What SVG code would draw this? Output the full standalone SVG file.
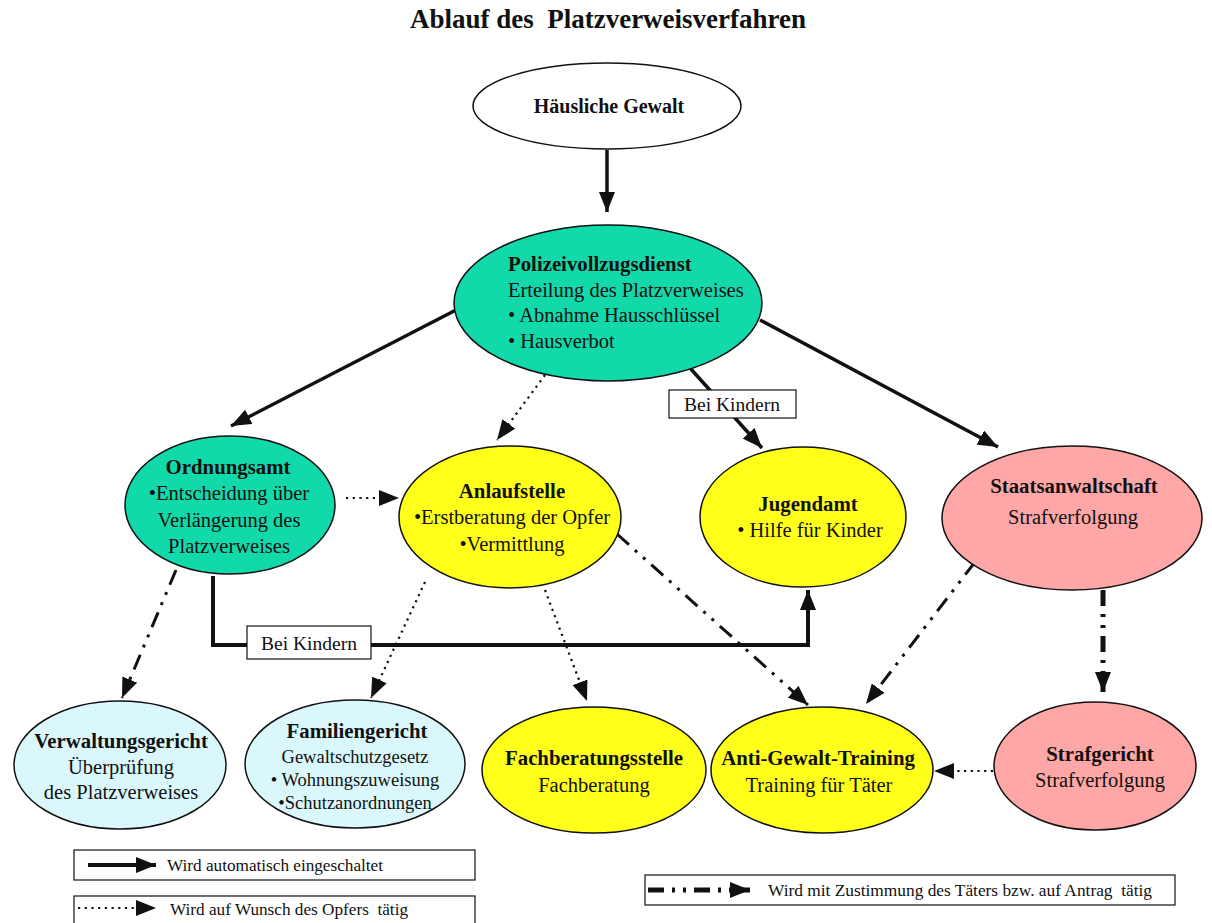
<svg xmlns="http://www.w3.org/2000/svg" width="1212" height="923" viewBox="0 0 1212 923">
<style>
text{font-family:"Liberation Serif","Times New Roman",serif;fill:#111;white-space:pre}
.t{font-size:20.5px}
.b{font-size:20.8px;font-weight:bold}
.c{text-anchor:middle}
.n{stroke:#111;stroke-width:1.5}
.teal{fill:#12D9A9}
.yel{fill:#FFFF1A}
.pink{fill:#FFA6A6}
.cyan{fill:#DAF8FC}
.solid{fill:none;stroke:#111;stroke-width:3.5}
.dot{fill:none;stroke:#111;stroke-width:2.2;stroke-dasharray:2.2 4.5}
.dd{fill:none;stroke:#111;stroke-width:3;stroke-dasharray:16 8 3 8 3 8}
.lbl{fill:#fff;stroke:#111;stroke-width:1.2}
.leg{font-size:16px}
.bk{font-size:19.5px}
.sm{font-size:18.5px}
</style>
<defs>
<marker id="ah" viewBox="0 0 20 16" markerUnits="userSpaceOnUse" markerWidth="20" markerHeight="16" refX="20" refY="8" orient="auto">
<path d="M0,0 L20,8 L0,16 z" fill="#111"/>
</marker>
</defs>
<text x="608" y="28" class="c" style="font-size:27px;font-weight:bold">Ablauf des  Platzverweisverfahren</text>

<g id="connectors">
<path class="solid" d="M607,150 V212" marker-end="url(#ah)"/>
<path class="solid" d="M456,310 L231,426" marker-end="url(#ah)"/>
<path class="dot" d="M545,375 L497,440" marker-end="url(#ah)"/>
<path class="solid" d="M690,368 L762,448" marker-end="url(#ah)"/>
<path class="solid" d="M760,320 L998,447" marker-end="url(#ah)"/>
<path class="dot" d="M346,498 L399,498" marker-end="url(#ah)"/>
<path class="solid" style="stroke-width:4" d="M213,576 V645 H808 V590" marker-end="url(#ah)"/>
<path class="dd" d="M176,570 L122,698" marker-end="url(#ah)"/>
<path class="dot" d="M425,582 L371,698" marker-end="url(#ah)"/>
<path class="dot" d="M545,590 L587,701" marker-end="url(#ah)"/>
<path class="dd" d="M617,534 L808,705" marker-end="url(#ah)"/>
<path class="dd" d="M975,562 L866,704" marker-end="url(#ah)"/>
<path class="dd" style="stroke-width:5" d="M1103,590 V692" marker-end="url(#ah)"/>
<path class="dot" d="M993,771 L934,771" marker-end="url(#ah)"/>
<rect class="lbl" x="669" y="390" width="127" height="28"/>
<text x="732" y="411" class="c bk">Bei Kindern</text>
<rect class="lbl" x="247" y="626" width="124" height="33"/>
<text x="309" y="650" class="c bk">Bei Kindern</text>
</g>

<g id="haeusliche">
<ellipse class="n" fill="#fff" cx="607" cy="106" rx="134" ry="43"/>
<text x="609" y="113" class="c b" style="font-size:20px">Häusliche Gewalt</text>
</g>

<g id="polizei">
<ellipse class="n teal" cx="608" cy="303" rx="154" ry="78"/>
<text x="508" y="271" class="b">Polizeivollzugsdienst</text>
<text x="508" y="297" class="t">Erteilung des Platzverweises</text>
<text x="508" y="322" class="t">• Abnahme Hausschlüssel</text>
<text x="508" y="348" class="t">• Hausverbot</text>
</g>

<g id="ordnungsamt">
<ellipse class="n teal" cx="230" cy="505" rx="105" ry="69"/>
<text x="228" y="474" class="c b">Ordnungsamt</text>
<text x="229" y="500" class="c t">•Entscheidung über</text>
<text x="229" y="527" class="c t">Verlängerung des</text>
<text x="229" y="553" class="c t">Platzverweises</text>
</g>

<g id="anlaufstelle">
<ellipse class="n yel" cx="510" cy="517" rx="111" ry="71"/>
<text x="512" y="498" class="c b">Anlaufstelle</text>
<text x="512" y="524" class="c t">•Erstberatung der Opfer</text>
<text x="512" y="551" class="c t">•Vermittlung</text>
</g>

<g id="jugendamt">
<ellipse class="n yel" cx="803" cy="517" rx="103" ry="70"/>
<text x="808" y="511" class="c b">Jugendamt</text>
<text x="810" y="537" class="c t">• Hilfe für Kinder</text>
</g>

<g id="staatsanwaltschaft">
<ellipse class="n pink" cx="1072" cy="518" rx="130" ry="72"/>
<text x="1074" y="493" class="c b">Staatsanwaltschaft</text>
<text x="1073" y="524" class="c t">Strafverfolgung</text>
</g>

<g id="verwaltungsgericht">
<ellipse class="n cyan" cx="120" cy="765" rx="106" ry="64"/>
<text x="121" y="748" class="c b">Verwaltungsgericht</text>
<text x="121" y="774" class="c t">Überprüfung</text>
<text x="121" y="799" class="c t">des Platzverweises</text>
</g>

<g id="familiengericht">
<ellipse class="n cyan" cx="355" cy="764" rx="110" ry="64"/>
<text x="357" y="738" class="c b">Familiengericht</text>
<text x="355" y="763" class="c sm">Gewaltschutzgesetz</text>
<text x="355" y="786" class="c sm">• Wohnungszuweisung</text>
<text x="355" y="809" class="c sm">•Schutzanordnungen</text>
</g>

<g id="fachberatungsstelle">
<ellipse class="n yel" cx="594" cy="770" rx="112" ry="63"/>
<text x="594" y="765" class="c b">Fachberatungsstelle</text>
<text x="594" y="792" class="c t">Fachberatung</text>
</g>

<g id="antigewalt">
<ellipse class="n yel" cx="822" cy="770" rx="111" ry="63"/>
<text x="818" y="765" class="c b">Anti-Gewalt-Training</text>
<text x="819" y="792" class="c t">Training für Täter</text>
</g>

<g id="strafgericht">
<ellipse class="n pink" cx="1095" cy="766" rx="101" ry="64"/>
<text x="1100" y="761" class="c b">Strafgericht</text>
<text x="1100" y="787" class="c t">Strafverfolgung</text>
</g>

<g id="legend">
<rect class="lbl" x="74" y="850" width="401" height="30"/>
<path class="solid" style="stroke-width:4" d="M88,865 H156" marker-end="url(#ah)"/>
<text x="167" y="871" class="leg" textLength="216" lengthAdjust="spacingAndGlyphs">Wird automatisch eingeschaltet</text>
<rect class="lbl" x="74" y="896" width="401" height="30"/>
<path class="dot" d="M78,908 H156" marker-end="url(#ah)"/>
<text x="170" y="915" class="leg" textLength="238" lengthAdjust="spacingAndGlyphs">Wird auf Wunsch des Opfers  tätig</text>
<rect class="lbl" x="645" y="875" width="530" height="30"/>
<path class="dd" style="stroke-width:5" d="M648,890 H750" marker-end="url(#ah)"/>
<text x="768" y="896" class="leg" textLength="384" lengthAdjust="spacingAndGlyphs">Wird mit Zustimmung des Täters bzw. auf Antrag  tätig</text>
</g>
</svg>
